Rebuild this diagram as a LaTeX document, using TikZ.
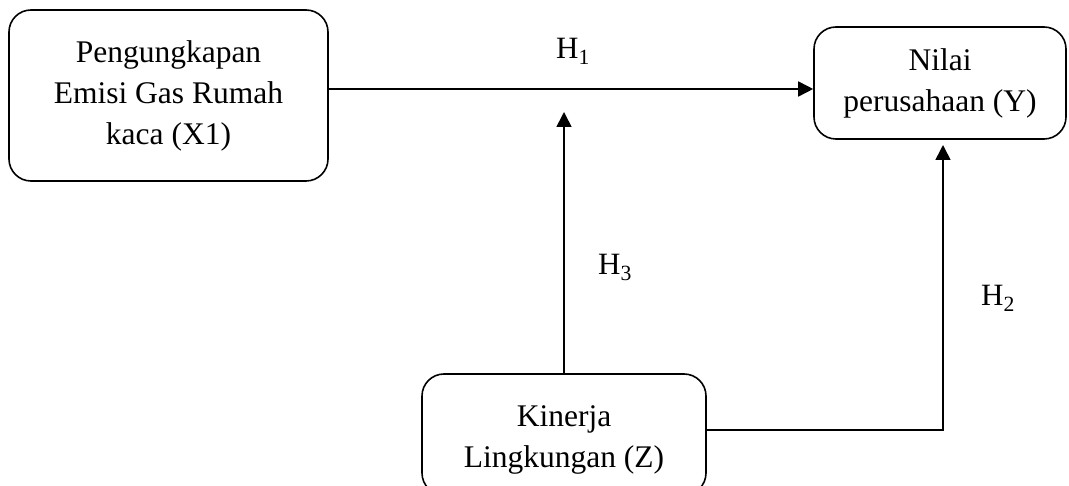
\documentclass[tikz,border=0pt]{standalone}
\usepackage{fontspec}
\setmainfont{Liberation Serif}
\usetikzlibrary{arrows.meta}
\begin{document}
\begin{tikzpicture}[x=1pt,y=-1pt,
  box/.style={draw,line width=1.6pt,rounded corners=22pt,inner sep=0pt,align=center,
    font=\fontsize{31.5}{41}\selectfont},
  txt/.style={inner sep=0pt,align=center,font=\fontsize{31.5}{41}\selectfont},
  conn/.style={line width=1.6pt},
  arr/.style={conn,-{Triangle[length=15pt,width=15pt]}},
  hlab/.style={anchor=base west,inner sep=0pt,font=\fontsize{31}{36}\selectfont}]
\useasboundingbox (0,0) rectangle (1069,486);
\node[box,minimum width=319pt,minimum height=171pt] (X1) at (168.5,95.5)
  {Pengungkapan\\Emisi Gas Rumah\\kaca (X1)};
\node[box,minimum width=252pt,minimum height=112pt] (Y) at (940,83)
  {Nilai\\perusahaan (Y)};
\node[box,minimum width=284pt,minimum height=121pt] (Z) at (564,434.5) {};
\node[txt] (Zt) at (564,440) {Kinerja\\Lingkungan (Z)};
\coordinate (j1) at (563,89);
\coordinate (t3) at (564,112);
\coordinate (t2) at (943,145);
\draw[arr] (X1.east |- j1) -- (Y.west |- j1);
\draw[arr] (Z.north) -- (t3);
\draw[arr] (Z.east |- 0,430) -| (t2);
\node[hlab] (h1) at (556,59) {H\textsubscript{1}};
\node[hlab] (h3) at (598,275) {H\textsubscript{3}};
\node[hlab] (h2) at (981,306) {H\textsubscript{2}};
\end{tikzpicture}
\end{document}
